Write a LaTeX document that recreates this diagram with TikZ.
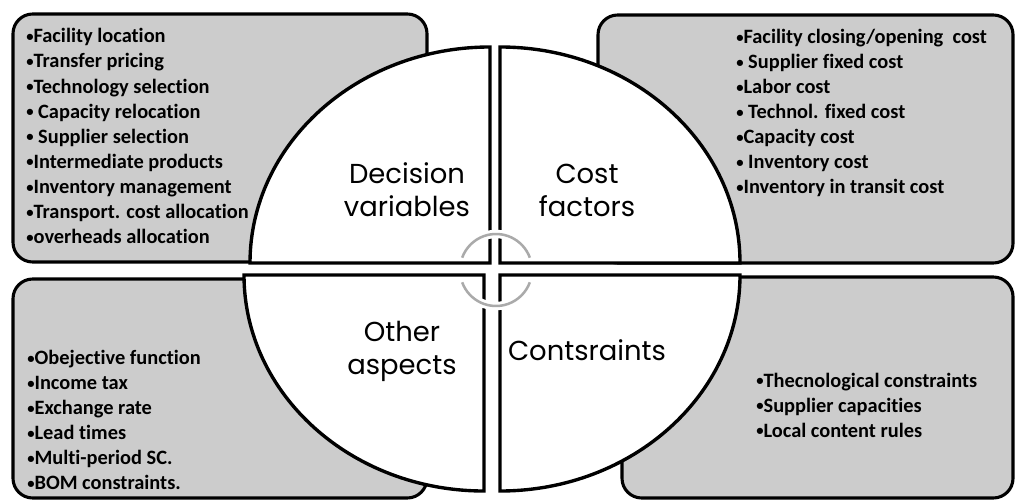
\documentclass[tikz,border=0pt]{standalone}
\usepackage{fontspec}
\setmainfont[Ligatures=NoCommon]{Carlito}
\newfontfamily\labelfont{Poppins}
\definecolor{boxgray}{RGB}{204,204,204}
\definecolor{ringgray}{RGB}{170,170,170}
\newcommand{\blt}{\raisebox{0.8pt}{\scalebox{0.72}{•}}}

\begin{document}
\begin{tikzpicture}[x=0.025cm, y=0.025cm,
		box/.style={fill=boxgray, draw=black, line width=2.2pt, rounded corners=14pt},
		quad/.style={fill=white, draw=black, line width=2.4pt},
		items/.style={anchor=west, inner sep=0pt, align=left, font=\fontsize{14.5}{17.8}\selectfont\bfseries},
		title/.style={inner sep=0pt, align=center, font=\labelfont\fontsize{19.5}{23.5}\selectfont},
		ring/.style={draw=ringgray, line width=1.8pt, preaction={draw=white, line width=6pt}}]
	\useasboundingbox (0, 0) rectangle (1016, 501);
	\draw[box] (13, 239) rectangle (427, 487);
	\draw[box] (598, 238) rectangle (1013, 486);
	\draw[box] (13, 3) rectangle (427, 222);
	\draw[box] (622, 3) rectangle (1013, 224);
	\draw[quad] (490, 238) -- (250, 238) arc[start angle=180, end angle=90, x radius=240, y radius=216] -- cycle;
	\draw[quad] (500, 238) -- (500, 454) arc[start angle=90, end angle=0, x radius=240, y radius=216] -- cycle;
	\draw[quad] (484, 226) -- (244, 226) arc[start angle=180, end angle=270, x radius=240, y radius=216] -- cycle;
	\draw[quad] (500, 226) -- (740, 226) arc[start angle=0, end angle=-90, x radius=240, y radius=216] -- cycle;
	\draw[ring] (496, 231) ++(20:36) arc[start angle=20, end angle=160, radius=36];
	\draw[ring] (496, 231) ++(200:36) arc[start angle=200, end angle=340, radius=36];
	\node[items] (decvars) at (26, 365) {\blt Facility location\\\blt Transfer pricing\\\blt Technology selection\\\blt\ Capacity relocation\\\blt\ Supplier selection\\\blt Intermediate products\\\blt Inventory management\\\blt Transport. cost allocation\\\blt overheads allocation};
	\node[items] (costs) at (736, 388) {\blt Facility closing/opening\ \ cost\\\blt\ Supplier fixed cost\\\blt Labor cost\\\blt\ Technol. fixed cost\\\blt Capacity cost\\\blt\ Inventory cost\\\blt Inventory in transit cost};
	\node[items] (others) at (27, 81) {\blt Obejective function\\\blt Income tax\\\blt Exchange rate\\\blt Lead times\\\blt Multi-period SC.\\\blt BOM constraints.};
	\node[items] (limits) at (756, 96) {\blt Thecnological constraints\\\blt Supplier capacities\\\blt Local content rules};
	\node[title] (dv) at (407, 311) {Decision\\variables};
	\node[title] (cf) at (587, 311) {Cost\\factors};
	\node[title] (oa) at (402, 150) {Other\\aspects};
	\node[title] (ct) at (587, 151) {Contsraints};
\end{tikzpicture}
\end{document}
